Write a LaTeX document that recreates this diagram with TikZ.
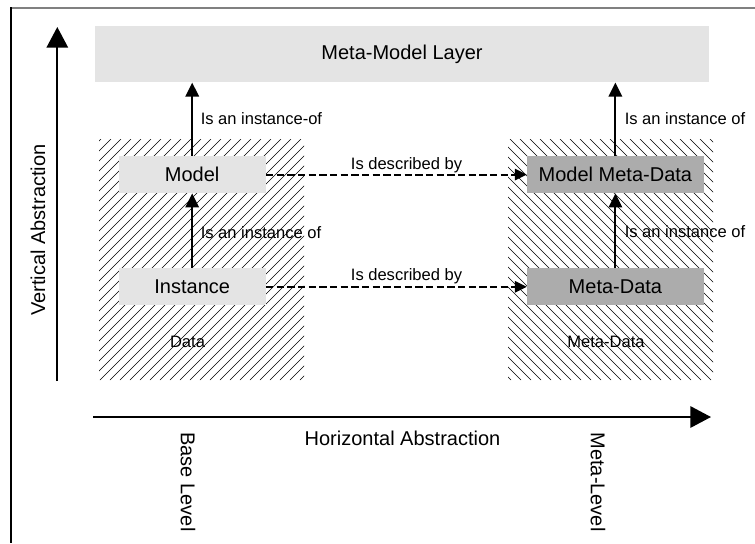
\documentclass[tikz,border=0pt]{standalone}
\usepackage{fontspec}
\setmainfont{Liberation Sans}
\usetikzlibrary{arrows.meta}
\definecolor{lightbox}{RGB}{228,228,228}
\definecolor{darkbox}{RGB}{172,172,172}
\definecolor{framegray}{RGB}{128,128,128}
\tikzset{
  bigfont/.style={font=\fontsize{15}{18}\selectfont},
  smallfont/.style={font=\fontsize{12.4}{15}\selectfont},
  hatchline/.style={line width=0.4pt, black},
  basebox/.style={inner sep=0pt, minimum height=27.75pt, bigfont},
  lightnode/.style={basebox, fill=lightbox, minimum width=110.25pt},
  darknode/.style={basebox, fill=darkbox, minimum width=132.5pt},
  linkarrow/.style={line width=1.6pt, -{Triangle[length=10.5pt,width=10pt]}},
  descarrow/.style={line width=1.6pt, dash pattern=on 5.5pt off 2.5pt, -{Triangle[length=9pt,width=8.5pt]}},
  axisarrow/.style={line width=1.6pt, -{Triangle[length=15.5pt,width=16pt]}},
  lbl/.style={smallfont, inner sep=0pt},
}
\begin{document}
\begin{tikzpicture}[x=0.75pt,y=-0.75pt]
\useasboundingbox (0,0) rectangle (755,543);

% outer frame (top and left edges)
\draw[framegray, line width=1.5pt] (11,7.5) -- (755,7.5);
\draw[black, line width=1pt] (11,7) -- (11,543);

% hatched areas: base level (data) and meta level
\begin{scope}
  \clip (99,139) rectangle (304,380);
  \foreach \i in {-250,-240,...,310} \draw[hatchline] (\i,380) -- ++(241,-241);
\end{scope}
\begin{scope}
  \clip (508,139) rectangle (713,380);
  \foreach \i in {260,270,...,720} \draw[hatchline] (\i,139) -- ++(241,241);
\end{scope}

% layer and boxes
\node[basebox, fill=lightbox, minimum width=460.5pt, minimum height=42pt] (layer) at (402,54.3) {Meta-Model Layer};
\node[lightnode] (model) at (192.2,174.6) {Model};
\node[lightnode] (instance) at (192.2,286.8) {Instance};
\node[darknode] (mmd) at (615.4,174.6) {Model Meta-Data};
\node[darknode] (md) at (615.4,286.8) {Meta-Data};

% instance-of relations
\draw[linkarrow] (instance.north) -- (model.south);
\draw[linkarrow] (model.north) -- (model.north |- layer.south);
\draw[linkarrow] (md.north) -- (mmd.south);
\draw[linkarrow] (mmd.north) -- (mmd.north |- layer.south);

\node[lbl, anchor=west] (l1) at (200.5,119) {Is an instance-of};
\node[lbl, anchor=west] (l2) at (200.5,233) {Is an instance of};
\node[lbl, anchor=west] (l3) at (624.5,119) {Is an instance of};
\node[lbl, anchor=west] (l4) at (624.5,231.5) {Is an instance of};

% described-by relations
\draw[descarrow] (model.east) -- (mmd.west);
\draw[descarrow] (instance.east) -- (md.west);
\node[lbl] (d1) at (406.5,165) {Is described by};
\node[lbl] (d2) at (406.5,276.5) {Is described by};

% area captions
\node[lbl] (data) at (187.5,342) {Data};
\node[lbl] (metadata) at (606,342) {Meta-Data};

% abstraction axes
\coordinate (vbase) at (57.3,381);
\coordinate (vtip) at (57.3,27);
\coordinate (hbase) at (93,417);
\coordinate (htip) at (711,417);
\draw[axisarrow] (vbase) -- (vtip);
\draw[axisarrow] (hbase) -- (htip);
\node[bigfont, rotate=90, inner sep=0pt] (vlab) at (38,230) {Vertical Abstraction};
\node[bigfont, inner sep=0pt] (hlab) at (402.5,438) {Horizontal Abstraction};
\node[bigfont, rotate=-90, inner sep=0pt] (base) at (188,482) {Base Level};
\node[bigfont, rotate=-90, inner sep=0pt] (meta) at (598,482) {Meta-Level};
\end{tikzpicture}
\end{document}
